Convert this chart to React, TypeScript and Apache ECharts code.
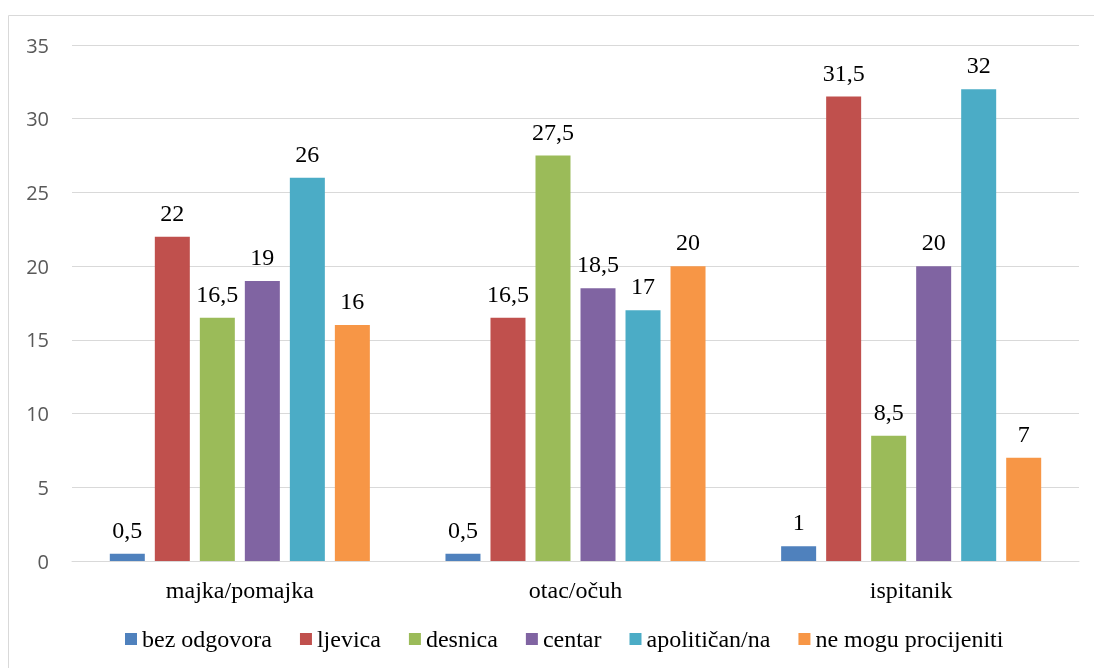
import React, { useEffect, useRef } from "react";
import * as echarts from "echarts";

const categories = ["majka/pomajka", "otac/očuh", "ispitanik"];
const seriesNames = ["bez odgovora", "ljevica", "desnica", "centar", "apolitičan/na", "ne mogu procijeniti"];
const bezOdgovora = [0.5, 0.5, 1];
const ljevica = [22, 16.5, 31.5];
const desnica = [16.5, 27.5, 8.5];
const centar = [19, 18.5, 20];
const apolitican = [26, 17, 32];
const neMogu = [16, 20, 7];
const colors = ["#4F81BD", "#C0504D", "#9BBB59", "#8064A2", "#4BACC6", "#F79646"];

const serif = "'Liberation Serif', 'Times New Roman', serif";

export default function App() {
  const ref = useRef<HTMLDivElement>(null);
  useEffect(() => {
    if (!ref.current) return;
    const chart = echarts.init(ref.current, null, { renderer: "svg" });
    const values = [bezOdgovora, ljevica, desnica, centar, apolitican, neMogu];
    chart.setOption({
      animation: false,
      graphic: [
        {
          type: "rect",
          shape: { x: 8.5, y: 15.5, width: 1200, height: 800 },
          style: { fill: "none", stroke: "#D9D9D9", lineWidth: 1 },
          silent: true,
        },
      ],
      grid: { left: 72, right: 15, top: 45, bottom: 107, containLabel: false },
      legend: {
        bottom: 12,
        left: 120,
        itemWidth: 12,
        itemHeight: 12,
        itemGap: 28,
        icon: "rect",
        textStyle: { fontFamily: serif, fontSize: 24, color: "#000" },
        data: seriesNames,
      },
      xAxis: {
        type: "category",
        data: categories,
        axisLine: { lineStyle: { color: "#D9D9D9", width: 1 } },
        axisTick: { show: false },
        axisLabel: { fontFamily: serif, fontSize: 24, color: "#000", margin: 17 },
      },
      yAxis: {
        type: "value",
        min: 0,
        max: 35,
        interval: 5,
        axisLine: { show: false },
        axisTick: { show: false },
        splitLine: { lineStyle: { color: "#D9D9D9", width: 1 } },
        axisLabel: { fontFamily: "'Open Sans', sans-serif", fontSize: 20, color: "#595959", margin: 23 },
      },
      series: seriesNames.map((name, i) => ({
        name,
        type: "bar",
        data: values[i],
        barWidth: 35,
        barGap: "28.6%",
        itemStyle: { color: colors[i] },
        label: {
          show: true,
          position: "top",
          distance: 12,
          fontFamily: serif,
          fontSize: 24,
          color: "#000",
          formatter: (p: any) => String(p.value).replace(".", ","),
        },
      })),
    });
    return () => chart.dispose();
  }, []);
  return <div ref={ref} style={{ position: "fixed", left: 0, top: 0, width: 1094, height: 668 }} />;
}
